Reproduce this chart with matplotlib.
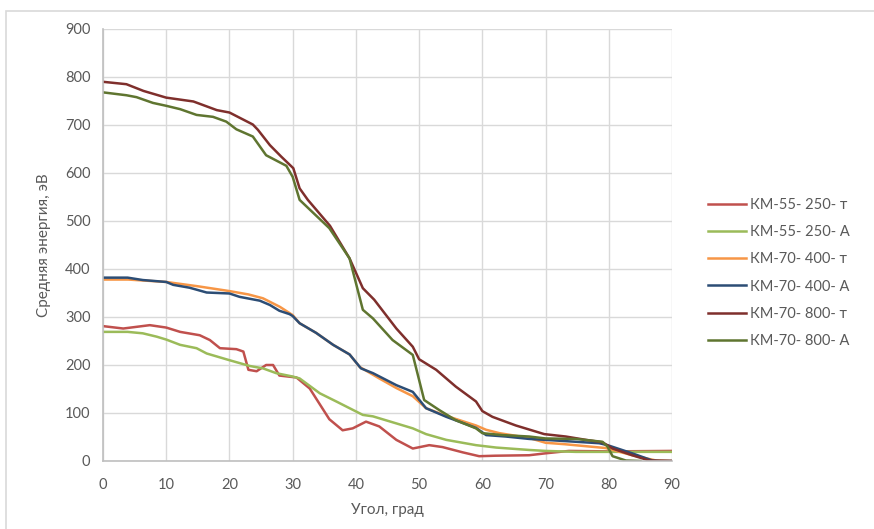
import matplotlib.pyplot as plt
from matplotlib.patches import Rectangle

plt.rcParams['font.family'] = ['Lato', 'DejaVu Sans']

# Series (angle in degrees, mean energy in eV)
x_55_250_t = [0, 3.2, 7.4, 10, 12.2, 15.3, 16.9, 18.5, 21.1, 22.2, 23, 24.3, 25.8, 26.9, 27.9,
              30.6, 32.7, 35.8, 37.9, 39.5, 41.6, 43.7, 46.4, 49, 51.6, 53.7, 56.9, 59.5, 62,
              67.4, 70, 73.7, 80, 90]
y_55_250_t = [281, 276, 283, 278, 269, 262, 252, 235, 233, 228, 190, 187, 200, 200, 178,
              174, 151, 87, 64, 68, 82, 72, 44, 26, 33, 29, 18, 10, 11,
              12, 16, 21, 20, 21]

x_55_250_a = [0, 3.9, 6.3, 8.5, 10, 12.2, 14.8, 16.4, 20, 23.2, 25.3, 27.4, 30, 31.1, 34.3,
              36.9, 41.1, 42.7, 49, 51.1, 54.3, 59, 62.2, 67.4, 70, 74.8, 80, 90]
y_55_250_a = [269, 269, 266, 259, 253, 242, 235, 224, 210, 198, 193, 183, 176, 172, 141,
              124, 96, 93, 68, 56, 44, 33, 28, 23, 21, 19, 19, 19]

x_70_400_t = [0, 4, 10, 15, 20, 23, 25.3, 28, 30, 31.1, 33.7, 36.4, 39, 40.6, 43.7, 46.4,
              49, 51.1, 54.3, 59, 60.6, 62.7, 67.4, 70, 73, 79.5, 83.7, 87.5, 90]
y_70_400_t = [378, 378, 373, 364, 354, 347, 339, 321, 304, 287, 267, 242, 222, 196, 172, 152,
              135, 110, 94, 74, 65, 58, 48, 38, 35, 27, 12, 1, 0]

x_70_400_a = [0, 3.9, 6.3, 10, 11.1, 13.7, 16.4, 20, 21.6, 24.8, 26.4, 27.9, 29.5, 30, 31.1,
              33.7, 36.4, 39, 40.8, 42.7, 46.4, 49, 51.1, 54.3, 59, 60.6, 63.7, 67.4, 70,
              78.5, 79.8, 83.7, 86.9, 88, 90]
y_70_400_a = [382, 382, 377, 373, 367, 361, 351, 349, 342, 334, 325, 313, 306, 302, 287,
              267, 242, 222, 193, 183, 158, 144, 110, 92, 69, 54, 51, 46, 44,
              37, 33, 16, 1, 0, 0]

x_70_800_t = [0, 3.7, 6.4, 10, 14.3, 18, 20, 23.7, 24.5, 26.4, 28.2, 30.1, 31.1, 32.4, 35.9,
              39, 41.1, 42.9, 46.4, 49, 50, 52.7, 55.8, 59, 60, 61.6, 65.3, 69.8, 73.2, 76.4,
              79, 80.6, 83.7, 86.4, 90]
y_70_800_t = [790, 785, 771, 757, 749, 731, 726, 701, 690, 658, 634, 610, 568, 544, 490,
              422, 360, 336, 276, 238, 212, 190, 155, 124, 104, 92, 74, 56, 51, 44,
              39, 26, 12, 1, 0]

x_70_800_a = [0, 3.7, 5.3, 7.9, 10, 12.2, 14.8, 17.4, 19.5, 21.1, 23.7, 25.8, 29, 30, 31.1,
              35.8, 39, 41.1, 42.7, 45.8, 49, 50.8, 53.2, 55.8, 59, 60, 63.2, 67.4, 70, 74.8,
              79, 79.8, 80.6, 82.7, 85]
y_70_800_a = [768, 762, 758, 746, 740, 733, 721, 717, 707, 691, 676, 637, 615, 592, 544,
              485, 422, 315, 297, 252, 221, 127, 106, 85, 68, 58, 54, 51, 47, 46,
              40, 30, 10, 1, 0]

labels = ['КМ-55- 250- т', 'КМ-55- 250- А', 'КМ-70- 400- т',
          'КМ-70- 400- А', 'КМ-70- 800- т', 'КМ-70- 800- А']
colors = ['#C0504D', '#9BBB59', '#F79646', '#2C4D75', '#7F2F2C', '#5F7530']

series = [(x_55_250_t, y_55_250_t), (x_55_250_a, y_55_250_a),
          (x_70_400_t, y_70_400_t), (x_70_400_a, y_70_400_a),
          (x_70_800_t, y_70_800_t), (x_70_800_a, y_70_800_a)]

fig = plt.figure(figsize=(8.74, 5.29), dpi=100)
ax = fig.add_axes([103 / 874, 1 - 461 / 529, 569 / 874, 432 / 529])

# chart area border (only top and left edges visible in the crop)
fig.patches.append(Rectangle((6 / 874, -0.1), 1.2, 1 - 11 / 529 + 0.1,
                             transform=fig.transFigure, fill=False,
                             edgecolor='#D9D9D9', lw=1.2))

for (xs, ys), lab, col in zip(series, labels, colors):
    ax.plot(xs, ys, color=col, lw=1.8, label=lab)

ax.set_xlim(0, 90)
ax.set_ylim(0, 900)
ax.set_xticks(range(0, 91, 10))
ax.set_yticks(range(0, 901, 100))
ax.grid(True, color='#D9D9D9', lw=1)
ax.set_axisbelow(True)
for s in ['top', 'right']:
    ax.spines[s].set_visible(False)
for s in ['left', 'bottom']:
    ax.spines[s].set_color('#BFBFBF')
    ax.spines[s].set_linewidth(1.2)
ax.tick_params(length=0, colors='#595959', labelsize=10.5, pad=9)
ax.tick_params(axis='x', pad=12)

ax.set_xlabel('Угол, град', fontsize=11, color='#595959', labelpad=8)
ax.set_ylabel('Средняя энергия, эВ', fontsize=11, color='#595959', labelpad=10)

fig.legend(loc='center left', bbox_to_anchor=(708 / 874, 1 - 273 / 529),
           frameon=False, fontsize=10.5, labelcolor='#595959',
           handlelength=2.6, handletextpad=0.3, labelspacing=0.9,
           borderpad=0, borderaxespad=0)

fig.savefig('out.png', dpi=100)
